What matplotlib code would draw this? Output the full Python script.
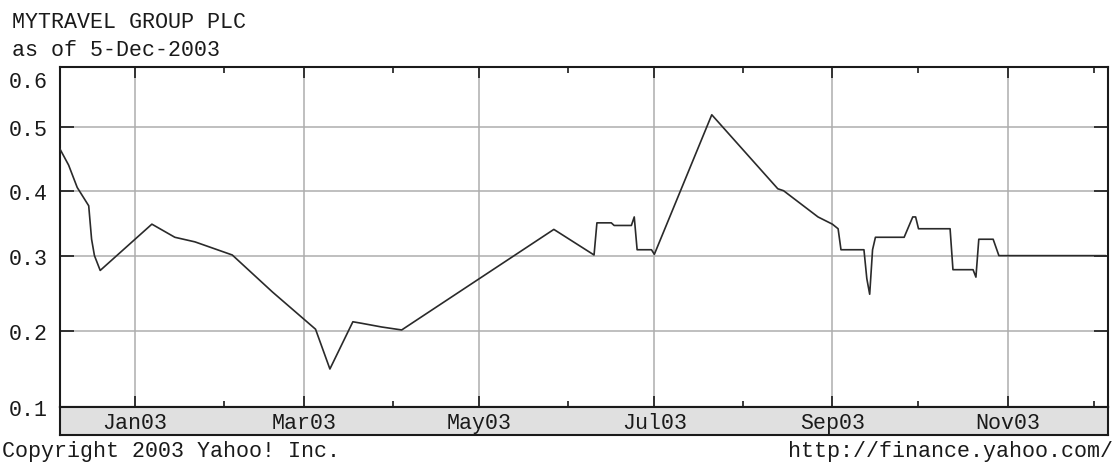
import numpy as np
import pandas as pd
import matplotlib
matplotlib.use("Agg")
import matplotlib.pyplot as plt
import matplotlib.dates as mdates
from matplotlib.transforms import ScaledTranslation

# --- data (daily close, GBP) ---
DATES = [
    "2002-12-06", "2002-12-09", "2002-12-12", "2002-12-16", "2002-12-17", "2002-12-18",
    "2002-12-20", "2003-01-07", "2003-01-15", "2003-01-22", "2003-02-04", "2003-02-18",
    "2003-03-05", "2003-03-10", "2003-03-18", "2003-03-21", "2003-03-28", "2003-04-04",
    "2003-05-27", "2003-06-10", "2003-06-11", "2003-06-16", "2003-06-17", "2003-06-23",
    "2003-06-24", "2003-06-25", "2003-06-30", "2003-07-01", "2003-07-21", "2003-08-13",
    "2003-08-15", "2003-08-27", "2003-09-01", "2003-09-03", "2003-09-04", "2003-09-12",
    "2003-09-13", "2003-09-14", "2003-09-15", "2003-09-16", "2003-09-26", "2003-09-29",
    "2003-09-30", "2003-10-01", "2003-10-12", "2003-10-13", "2003-10-20", "2003-10-21",
    "2003-10-22", "2003-10-27", "2003-10-29", "2003-12-05",
]
PRICES = [
    0.465, 0.440, 0.405, 0.377, 0.326, 0.301,
    0.281, 0.349, 0.329, 0.322, 0.302, 0.252,
    0.202, 0.150, 0.212, 0.210, 0.205, 0.201,
    0.341, 0.302, 0.351, 0.351, 0.347, 0.347,
    0.360, 0.310, 0.310, 0.303, 0.520, 0.403,
    0.400, 0.360, 0.349, 0.342, 0.310, 0.310,
    0.270, 0.249, 0.310, 0.329, 0.329, 0.360,
    0.360, 0.342, 0.342, 0.282, 0.282, 0.272,
    0.326, 0.326, 0.301, 0.301,
]
Y_TICKS = [0.1, 0.2, 0.3, 0.4, 0.5, 0.6]
Y_LABELS = ["0.1", "0.2", "0.3", "0.4", "0.5", "0.6"]
LABEL_MONTHS = ["2003-01-01", "2003-03-01", "2003-05-01", "2003-07-01", "2003-09-01", "2003-11-01"]
MONTH_LABELS = ["Jan03", "Mar03", "May03", "Jul03", "Sep03", "Nov03"]

TITLE = "MYTRAVEL GROUP PLC"
SUBTITLE = "as of 5-Dec-2003"
COPYRIGHT = "Copyright 2003 Yahoo! Inc."
URL = "http://finance.yahoo.com/"

# yahoo's price axis is compressed towards the top; mimic it with a piecewise scale
SCALE_V = [0.0, 0.1, 0.2, 0.3, 0.4, 0.5, 0.6, 1.0]
SCALE_P = [-76.6, 0.0, 76.6, 151.0, 216.6, 280.6, 340.3, 579.1]

def fwd(v):
    return np.interp(v, SCALE_V, SCALE_P)

def inv(p):
    return np.interp(p, SCALE_P, SCALE_V)

FONT = "Liberation Mono"
FS = 15.6
INK = "#1a1a1a"
GRID = "#adadad"
BAND = "#e0e0e0"

dates = pd.to_datetime(DATES)
x0, x1 = pd.Timestamp("2002-12-06"), pd.Timestamp("2003-12-06")

W, H = 1115, 464
fig = plt.figure(figsize=(W / 100, H / 100), dpi=100)
L, R, TOP, BOT, BAND_BOT = 60, 1108, 68, 408.3, 436
ax = fig.add_axes([L / W, 1 - BOT / H, (R - L) / W, (BOT - TOP) / H])
axb = fig.add_axes([L / W, 1 - BAND_BOT / H, (R - L) / W, (BAND_BOT - BOT) / H], sharex=ax)

ax.plot(dates, PRICES, color="#2a2a2a", lw=1.2, zorder=3)

ax.set_yscale("function", functions=(fwd, inv))
ax.set_ylim(0.1, 0.6)
ax.set_xlim(x0, x1)
ax.set_yticks(Y_TICKS)
ax.set_yticklabels(Y_LABELS, fontfamily=FONT, fontsize=FS, color=INK)
ax.yaxis.set_minor_locator(matplotlib.ticker.NullLocator())
ax.xaxis.set_major_locator(mdates.MonthLocator(bymonth=[1, 3, 5, 7, 9, 11]))
ax.xaxis.set_minor_locator(mdates.MonthLocator(bymonth=[2, 4, 6, 8, 10, 12]))
ax.tick_params(axis="x", which="major", direction="in", length=8, width=1.2,
               color=INK, top=True, bottom=True, labelbottom=False)
ax.tick_params(axis="x", which="minor", direction="in", length=4, width=1.2,
               color=INK, top=True, bottom=True)
ax.tick_params(axis="y", which="major", direction="in", length=10, width=1.2,
               color=INK, left=True, right=True, pad=9)
ax.grid(True, which="major", color=GRID, lw=1.1, zorder=1)
for s in ax.spines.values():
    s.set_color(INK)
    s.set_linewidth(1.5)

# top label pushed down so it clears the subtitle
lab6 = ax.get_yticklabels()[-1]
lab6.set_transform(lab6.get_transform() + ScaledTranslation(0, -12 / 100, fig.dpi_scale_trans))

axb.set_facecolor(BAND)
axb.set_yticks([])
axb.tick_params(axis="x", which="both", length=0, labelbottom=False)
for s in axb.spines.values():
    s.set_color(INK)
    s.set_linewidth(1.5)
for d, lab in zip(pd.to_datetime(LABEL_MONTHS), MONTH_LABELS):
    axb.text(d, 0.45, lab, transform=axb.get_xaxis_transform(), ha="center", va="center",
             fontfamily=FONT, fontsize=FS, color=INK)

fig.text(12 / W, 1 - 23 / H, TITLE, ha="left", va="center", fontfamily=FONT, fontsize=FS, color=INK)
fig.text(12 / W, 1 - 50 / H, SUBTITLE, ha="left", va="center", fontfamily=FONT, fontsize=FS, color=INK)
fig.text(2 / W, 1 - 452 / H, COPYRIGHT, ha="left", va="center", fontfamily=FONT, fontsize=FS, color=INK)
fig.text(1113 / W, 1 - 452 / H, URL, ha="right", va="center", fontfamily=FONT, fontsize=FS, color=INK)

fig.savefig("out.png", dpi=100, facecolor="white")
